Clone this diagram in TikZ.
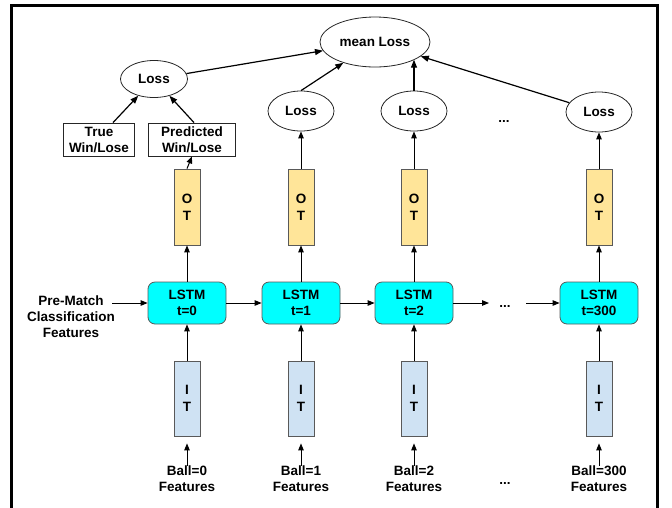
\documentclass[tikz,border=0pt]{standalone}
\usepackage{fontspec}
\setmainfont{Liberation Sans}
\usetikzlibrary{shapes.geometric,arrows.meta}
\definecolor{otfill}{HTML}{FFE599}
\definecolor{itfill}{HTML}{CFE2F3}
\definecolor{lstmfill}{HTML}{00FFFF}
\definecolor{edgegray}{HTML}{595959}
\begin{document}
\begin{tikzpicture}[x=1pt,y=-1pt,
  font=\fontsize{13.5}{16}\selectfont\bfseries,
  lossnode/.style={ellipse, draw=black!85, line width=0.8pt, inner sep=0pt, minimum width=66pt, minimum height=40pt},
  labelbox/.style={draw=black!85, line width=0.8pt, align=center, inner sep=0pt, minimum height=33pt},
  otbox/.style={draw=edgegray, fill=otfill, line width=0.8pt, minimum width=26pt, minimum height=76pt, inner sep=0pt, align=center},
  itbox/.style={draw=edgegray, fill=itfill, line width=0.8pt, minimum width=26pt, minimum height=75pt, inner sep=0pt, align=center},
  lstmbox/.style={draw=edgegray, fill=lstmfill, line width=0.8pt, rounded corners=7pt, minimum width=78pt, minimum height=42pt, inner sep=0pt, align=center},
  txt/.style={align=center, inner sep=0pt},
  arr/.style={-{Triangle[length=8pt,width=6pt]}, line width=1.2pt},
  arrthin/.style={-{Triangle[length=7pt,width=5.5pt]}, line width=1pt}
]
\useasboundingbox (0,0) rectangle (672,507);
% frame
\coordinate (fbl) at (11.5,510);
\coordinate (ftl) at (11.5,5.5);
\coordinate (ftr) at (657.5,5.5);
\coordinate (fbr) at (657.5,510);
\draw[line width=3pt] (fbl) -- (ftl) -- (ftr) -- (fbr);

% top
\node[lossnode, minimum width=110pt, minimum height=50pt] (mean) at (375,42) {mean Loss};
\node[lossnode, minimum width=67pt, minimum height=37pt] (loss0) at (154,79) {Loss};
\node[lossnode] (loss1) at (301,111) {Loss};
\node[lossnode] (loss2) at (414,111) {Loss};
\node[lossnode] (loss300) at (599,112) {Loss};
\node[txt] (dotstop) at (504,121) {...};

\node[labelbox, minimum width=71pt] (true) at (99,139.5) {True\\Win/Lose};
\node[labelbox, minimum width=87pt] (pred) at (192,139.5) {Predicted\\Win/Lose};

% columns
\foreach \n/\x/\t in {0/187/0, 1/301/1, 2/414/2, 300/599/300}{
  \node[otbox] (ot\n) at (\x,207) {O\\[1pt]T};
  \node[lstmbox] (lstm\n) at (\x,303) {LSTM\\t=\t};
  \node[itbox] (it\n) at (\x,398.5) {I\\[1pt]T};
  \node[txt] (ball\n) at (\x,479) {Ball=\t\\Features};
  \draw[arrthin] (lstm\n.north) -- (ot\n.south);
  \draw[arrthin] (it\n.north) -- (lstm\n.south);
  \draw[arrthin, shorten >=7pt] (ball\n.north) -- (it\n.south);
}
\node[txt] (dotsmid) at (505,306) {...};
\node[txt] (dotsbot) at (505,483) {...};

\node[txt] (pm) at (71,317) {Pre-Match\\Classification\\Features};
\coordinate (pmstart) at (112,303);
\draw[arrthin] (pmstart) -- (lstm0.west);
\draw[arrthin] (lstm0.east) -- (lstm1.west);
\draw[arrthin] (lstm1.east) -- (lstm2.west);
\coordinate (midend) at (489,303);
\coordinate (midstart) at (526,303);
\draw[arrthin] (lstm2.east) -- (midend);
\draw[arrthin] (midstart) -- (lstm300.west);

% outputs
\draw[arrthin] (ot0.north) -- (pred.south);
\draw[arrthin] (ot1.north) -- (loss1.south);
\draw[arrthin] (ot2.north) -- (loss2.south);
\draw[arrthin] (ot300.north) -- (loss300.south);

% losses
\draw[arr] ([xshift=14pt]true.north) -- (loss0);
\draw[arr] ([xshift=2pt]pred.north) -- (loss0);
\draw[arr] (loss0) -- (mean);
\draw[arr] (loss1.north) -- (mean);
\draw[arr] (loss2.north) -- (loss2.north |- mean.-24);
\draw[arr] (loss300) -- (mean);
\end{tikzpicture}
\end{document}
